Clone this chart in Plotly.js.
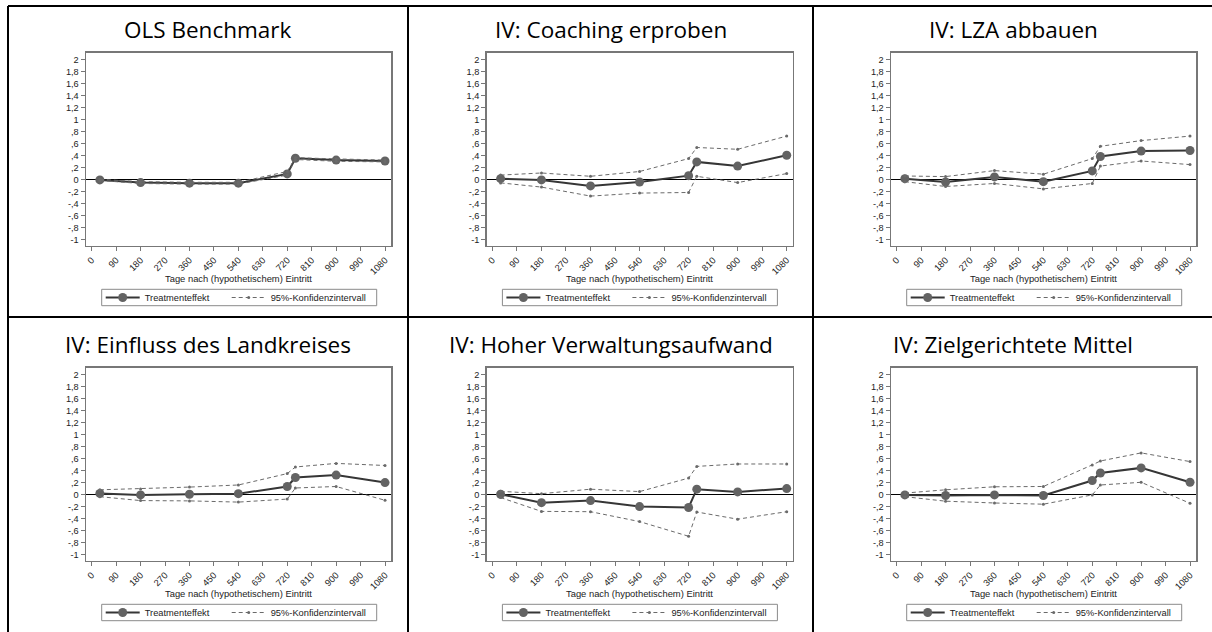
<!DOCTYPE html>
<html>
<head>
<meta charset="utf-8">
<script src="https://cdn.plot.ly/plotly-3.0.1.min.js"></script>
<style>
  html, body { margin: 0; padding: 0; background: #ffffff; }
  #chart { width: 1212px; height: 632px; }
</style>
</head>
<body>
<div id="chart"></div>
<script>
// ---------------- DATA ----------------
const days = [30, 180, 360, 540, 720, 750, 900, 1080];

const panelTitles = [
  "OLS Benchmark",
  "IV: Coaching erproben",
  "IV: LZA abbauen",
  "IV: Einfluss des Landkreises",
  "IV: Hoher Verwaltungsaufwand",
  "IV: Zielgerichtete Mittel"
];

const olsEffect = [-0.01, -0.055, -0.065, -0.065, 0.09, 0.35, 0.32, 0.305];
const olsUpper  = [0.00, -0.04, -0.05, -0.05, 0.13, 0.36, 0.34, 0.32];
const olsLower  = [-0.02, -0.07, -0.08, -0.08, 0.07, 0.33, 0.30, 0.29];

const coachEffect = [0.01, -0.01, -0.11, -0.045, 0.06, 0.29, 0.22, 0.40];
const coachUpper  = [0.07, 0.105, 0.05, 0.13, 0.345, 0.53, 0.50, 0.72];
const coachLower  = [-0.06, -0.13, -0.28, -0.23, -0.22, 0.05, -0.055, 0.095];

const lzaEffect = [0.01, -0.045, 0.04, -0.04, 0.14, 0.38, 0.47, 0.48];
const lzaUpper  = [0.055, 0.045, 0.145, 0.085, 0.345, 0.55, 0.645, 0.72];
const lzaLower  = [-0.04, -0.12, -0.07, -0.16, -0.07, 0.22, 0.305, 0.245];

const kreisEffect = [0.015, -0.01, 0.0, 0.01, 0.13, 0.28, 0.32, 0.195];
const kreisUpper  = [0.075, 0.09, 0.12, 0.155, 0.345, 0.455, 0.515, 0.48];
const kreisLower  = [-0.04, -0.105, -0.11, -0.13, -0.08, 0.105, 0.13, -0.10];

const verwEffect = [0.0, -0.14, -0.105, -0.205, -0.22, 0.085, 0.04, 0.095];
const verwUpper  = [0.05, 0.01, 0.085, 0.045, 0.27, 0.465, 0.505, 0.505];
const verwLower  = [-0.055, -0.285, -0.29, -0.455, -0.70, -0.295, -0.415, -0.29];

const zielEffect = [-0.01, -0.02, -0.01, -0.02, 0.23, 0.355, 0.44, 0.20];
const zielUpper  = [0.02, 0.075, 0.125, 0.13, 0.49, 0.555, 0.69, 0.545];
const zielLower  = [-0.04, -0.115, -0.145, -0.165, -0.01, 0.155, 0.20, -0.15];

const xTickVals = [0, 90, 180, 270, 360, 450, 540, 630, 720, 810, 900, 990, 1080];
const yTickVals = [-1, -0.8, -0.6, -0.4, -0.2, 0, 0.2, 0.4, 0.6, 0.8, 1, 1.2, 1.4, 1.6, 1.8, 2];
const yTickText = ["-1", "-,8", "-,6", "-,4", "-,2", "0", ",2", ",4", ",6", ",8", "1", "1,2", "1,4", "1,6", "1,8", "2"];

const xAxisTitle = "Tage nach (hypothetischem) Eintritt";
const effectName = "Treatmenteffekt";
const ciName = "95%-Konfidenzintervall";

const panels = [
  [olsEffect, olsUpper, olsLower],
  [coachEffect, coachUpper, coachLower],
  [lzaEffect, lzaUpper, lzaLower],
  [kreisEffect, kreisUpper, kreisLower],
  [verwEffect, verwUpper, verwLower],
  [zielEffect, zielUpper, zielLower]
];

// ---------------- LAYOUT GEOMETRY (pixels) ----------------
const W = 1212, H = 632;
const px = v => v / W;
const py = v => 1 - v / H;

const colPlot = [[86, 391], [486.7, 792.7], [891, 1196]];
const rowPlot = [[52.7, 245.7], [367.7, 560.7]];
const cellCenterX = [208, 610.5, 1013];
const rowTitleY = [29, 344];
const rowAxisTitleY = [278, 593];
const legendBox = { left: 15.7, width: 275, top: [289.3, 604.3], height: 16.4, item2: 126 };

const armFont = "Liberation Sans, Arial, sans-serif";
const tickFont = { family: armFont, size: 9.2, color: "#222222" };

const traces = [];
const layout = {
  width: W, height: H,
  margin: { l: 0, r: 0, t: 0, b: 0 },
  paper_bgcolor: "#ffffff",
  plot_bgcolor: "#ffffff",
  showlegend: true,
  annotations: [],
  shapes: []
};

function legendSpec(xPix, yPix) {
  return {
    orientation: "h",
    x: px(xPix), xanchor: "left",
    y: py(yPix), yanchor: "middle",
    xref: "paper", yref: "paper",
    bgcolor: "rgba(0,0,0,0)",
    borderwidth: 0,
    font: { family: armFont, size: 9.3, color: "#222222" },
    itemwidth: 34
  };
}

panels.forEach((p, i) => {
  const r = Math.floor(i / 3), c = i % 3;
  const sfx = i === 0 ? "" : String(i + 1);
  const xa = "x" + sfx, ya = "y" + sfx;
  const legEff = "legend" + sfx;
  const legCI = "legend" + (i + 7);
  const [eff, up, lo] = p;

  traces.push({
    type: "scatter", mode: "lines+markers",
    x: days, y: eff,
    xaxis: xa, yaxis: ya,
    name: effectName,
    legend: legEff,
    line: { color: "#363636", width: 2 },
    marker: { color: "#636363", size: 9, symbol: "circle" }
  });
  // CI: upper and lower bounds as one dashed trace, separated by a gap
  traces.push({
    type: "scatter", mode: "lines+markers",
    x: days.concat([null], days),
    y: up.concat([null], lo),
    xaxis: xa, yaxis: ya,
    name: ciName,
    legend: legCI,
    connectgaps: false,
    line: { color: "#6a6a6a", width: 1, dash: "4px,3px" },
    marker: { color: "#6a6a6a", size: 3, symbol: "circle" }
  });

  layout["xaxis" + sfx] = {
    domain: [px(colPlot[c][0]), px(colPlot[c][1])],
    anchor: ya,
    range: [-21, 1102],
    tickmode: "array", tickvals: xTickVals,
    tickangle: -45,
    ticks: "outside", ticklen: 4, tickcolor: "#777777", tickwidth: 1,
    tickfont: tickFont,
    showgrid: false, zeroline: false,
    showline: true, linecolor: "#777777", linewidth: 1.5, mirror: true,
    fixedrange: true
  };
  layout["yaxis" + sfx] = {
    domain: [py(rowPlot[r][1]), py(rowPlot[r][0])],
    anchor: xa,
    range: [-1.107, 2.11],
    tickmode: "array", tickvals: yTickVals, ticktext: yTickText,
    ticks: "outside", ticklen: 4, tickcolor: "#777777", tickwidth: 1,
    tickfont: tickFont,
    showgrid: false,
    zeroline: true, zerolinecolor: "#000000", zerolinewidth: 1,
    showline: true, linecolor: "#777777", linewidth: 1.5, mirror: true,
    fixedrange: true
  };

  const boxL = colPlot[c][0] + legendBox.left;
  const boxT = legendBox.top[r];
  const boxMid = boxT + legendBox.height / 2;
  layout[legEff] = legendSpec(boxL - 1, boxMid);
  layout[legCI] = legendSpec(boxL - 1 + legendBox.item2, boxMid);
  layout.shapes.push({
    type: "rect", xref: "paper", yref: "paper",
    x0: px(boxL), x1: px(boxL + legendBox.width),
    y0: py(boxT), y1: py(boxT + legendBox.height),
    line: { color: "#8a8a8a", width: 1 },
    fillcolor: "rgba(0,0,0,0)"
  });

  layout.annotations.push({
    text: xAxisTitle,
    xref: "paper", yref: "paper",
    x: px((colPlot[c][0] + colPlot[c][1]) / 2), y: py(rowAxisTitleY[r]),
    xanchor: "center", yanchor: "middle", showarrow: false,
    font: { family: armFont, size: 9.4, color: "#222222" }
  });
  layout.annotations.push({
    text: panelTitles[i],
    xref: "paper", yref: "paper",
    x: px(cellCenterX[c]), y: py(rowTitleY[r]),
    xanchor: "center", yanchor: "middle",
    showarrow: false,
    font: { family: "Open Sans, sans-serif", size: 22.5, color: "#000000" }
  });
});

// table grid lines
const tableLines = [
  [8, 6, 1212, 6],
  [8, 317, 1212, 317],
  [8, 6, 8, 632],
  [408, 6, 408, 632],
  [813, 6, 813, 632]
];
tableLines.forEach(l => {
  layout.shapes.push({
    type: "line", xref: "paper", yref: "paper",
    x0: px(l[0]), y0: py(l[1]), x1: px(l[2]), y1: py(l[3]),
    line: { color: "#000000", width: 2 }
  });
});

Plotly.newPlot("chart", traces, layout, { displayModeBar: false, staticPlot: true });
</script>
</body>
</html>
